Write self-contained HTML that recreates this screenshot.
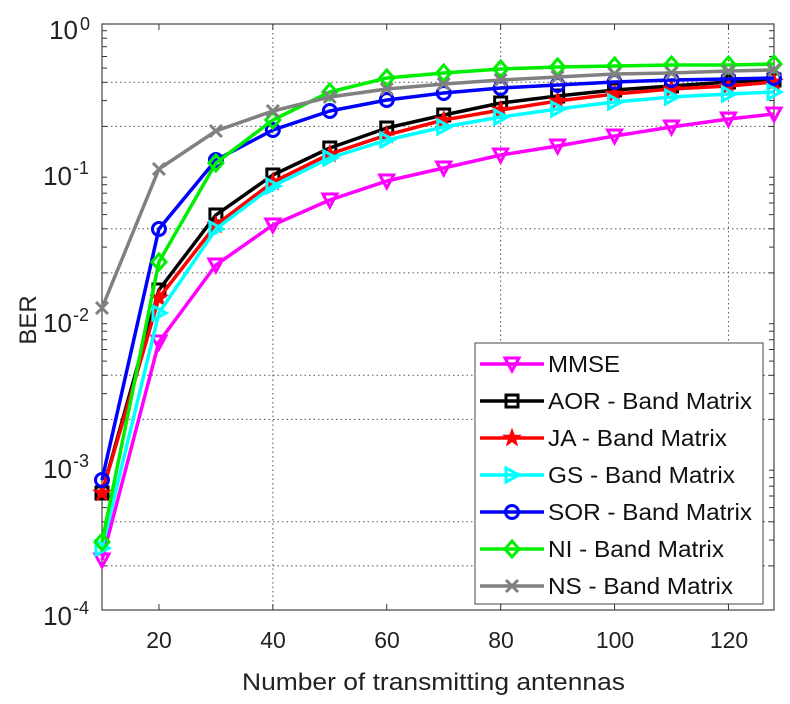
<!DOCTYPE html>
<html><head><meta charset="utf-8"><style>
html,body{margin:0;padding:0;background:#fff;}
svg{display:block;font-family:"Liberation Sans",Arial,sans-serif;}
</style></head><body>
<svg id="s" width="790" height="704" viewBox="0 0 790 704" xmlns="http://www.w3.org/2000/svg">
<rect width="790" height="704" fill="#fff"/>
<g id="grid" stroke="#555" stroke-width="1" stroke-dasharray="1.5,3"></g>
<g id="ticks" stroke="#333" stroke-width="1"></g>
<rect x="102" y="24" width="672" height="586" fill="none" stroke="#444" stroke-width="1.2"/>
<g id="series"></g>
<g font-size="23" fill="#222" text-anchor="middle">
<text x="159" y="648">20</text><text x="273" y="648">40</text><text x="387" y="648">60</text>
<text x="501" y="648">80</text><text x="615" y="648">100</text><text x="729" y="648">120</text>
</g>
<text x="242" y="690" font-size="24" fill="#222" textLength="383" lengthAdjust="spacingAndGlyphs">Number of transmitting antennas</text>
<g font-size="26" fill="#222" text-anchor="end">
<text x="78" y="39">10</text>
<text x="72" y="185">10</text>
<text x="72" y="332">10</text>
<text x="72" y="478">10</text>
<text x="72" y="625">10</text>
</g>
<g font-size="18" fill="#222">
<text x="80" y="30">0</text>
<text x="73" y="174">-1</text>
<text x="73" y="321">-2</text>
<text x="73" y="467">-3</text>
<text x="73" y="614">-4</text>
</g>
<text transform="translate(36,320) rotate(-90)" font-size="24" fill="#222" text-anchor="middle">BER</text>
<rect x="475" y="343" width="288" height="261" fill="#fff" stroke="#444" stroke-width="1"/>
<g id="leg"></g>
<g font-size="23" fill="#111">
<text x="548" y="372" textLength="72" lengthAdjust="spacingAndGlyphs">MMSE</text>
<text x="548" y="409" textLength="204" lengthAdjust="spacingAndGlyphs">AOR - Band Matrix</text>
<text x="548" y="446" textLength="179" lengthAdjust="spacingAndGlyphs">JA - Band Matrix</text>
<text x="548" y="483" textLength="187" lengthAdjust="spacingAndGlyphs">GS - Band Matrix</text>
<text x="548" y="520" textLength="204" lengthAdjust="spacingAndGlyphs">SOR - Band Matrix</text>
<text x="548" y="557" textLength="176" lengthAdjust="spacingAndGlyphs">NI - Band Matrix</text>
<text x="548" y="594" textLength="185" lengthAdjust="spacingAndGlyphs">NS - Band Matrix</text>
</g>
</svg>
<script>
var NS="http://www.w3.org/2000/svg";
function el(p,t,a){var e=document.createElementNS(NS,t);for(var k in a)e.setAttribute(k,a[k]);p.appendChild(e);return e;}
var g=document.getElementById('grid'),tk=document.getElementById('ticks');
var X=function(v){return 102+(v-10)*5.695;};
[40,80,120].forEach(function(v){el(g,'line',{x1:X(v),x2:X(v),y1:24,y2:610});});
for(var d=0;d<4;d++){[2,4].forEach(function(m){var y=610-146.5*d-146.5*Math.log10(m);el(g,'line',{x1:102,x2:774,y1:y,y2:y});});
 for(var m=2;m<10;m++){var y=610-146.5*d-146.5*Math.log10(m);el(tk,'line',{x1:102,x2:107,y1:y,y2:y});el(tk,'line',{x1:774,x2:769,y1:y,y2:y});}}
[20,40,60,80,100,120].forEach(function(v){el(tk,'line',{x1:X(v),x2:X(v),y1:610,y2:604});el(tk,'line',{x1:X(v),x2:X(v),y1:24,y2:30});});
var xs=[10,20,30,40,50,60,70,80,90,100,110,120,128];
var S=[
['#ff00ff','tri',[560,342,265,225,200,181,168,155,146,136,127,119,114]],
['#000','sq',[493,290,215,175,148,128,115,103,96,90,86,82,80]],
['#ff0000','star',[493,298,225,182,154,135,120,110,101,94,89,86,82]],
['#00ffff','rt',[548,313,229,186,158,140,127,117,109,102,97,94,92]],
['#0000ff','ci',[480,229,160,130,111,100,93,88,85,82,80,79,78]],
['#00ee00','di',[542,262,163,120,92,78,73,69,67,66,65,65,64]],
['#808080','x',[308,169,131,111,97,89,84,80,77,74,73,71,70]]];
function mk(p,c,t,x,y){var a={fill:'none',stroke:c,'stroke-width':3};
 if(t=='tri'){a.points=(x-7)+','+(y-6)+' '+(x+7)+','+(y-6)+' '+x+','+(y+7);el(p,'polygon',a);}
 else if(t=='sq'){a.x=x-6;a.y=y-6;a.width=12;a.height=12;el(p,'rect',a);}
 else if(t=='rt'){a.points=(x-6)+','+(y-7)+' '+(x-6)+','+(y+7)+' '+(x+7)+','+y;el(p,'polygon',a);}
 else if(t=='ci'){a.cx=x;a.cy=y;a.r=6.5;el(p,'circle',a);}
 else if(t=='di'){a.points=x+','+(y-8)+' '+(x+7)+','+y+' '+x+','+(y+8)+' '+(x-7)+','+y;el(p,'polygon',a);}
 else if(t=='star'){var pts=[];for(var i=0;i<10;i++){var r=i%2?3:7.5,an=-Math.PI/2+i*Math.PI/5;pts.push((x+r*Math.cos(an)).toFixed(1)+','+(y+r*Math.sin(an)).toFixed(1));}a.points=pts.join(' ');a.fill=c;a['stroke-width']=2;el(p,'polygon',a);}
 else if(t=='x'){el(p,'path',{d:'M'+(x-6)+' '+(y-6)+'L'+(x+6)+' '+(y+6)+'M'+(x+6)+' '+(y-6)+'L'+(x-6)+' '+(y+6),stroke:c,'stroke-width':3});}
}
var sg=document.getElementById('series'),lg=document.getElementById('leg');
S.forEach(function(s,i){var pts=xs.map(function(v,j){return X(v).toFixed(1)+','+s[2][j];}).join(' ');
 el(sg,'polyline',{points:pts,fill:'none',stroke:s[0],'stroke-width':3.5,'stroke-linejoin':'round'});
 xs.forEach(function(v,j){mk(sg,s[0],s[1],X(v),s[2][j]);});
 var ly=364+i*37;el(lg,'line',{x1:480,x2:544,y1:ly,y2:ly,stroke:s[0],'stroke-width':3.5});mk(lg,s[0],s[1],512,ly);});
</script>
</body></html>
